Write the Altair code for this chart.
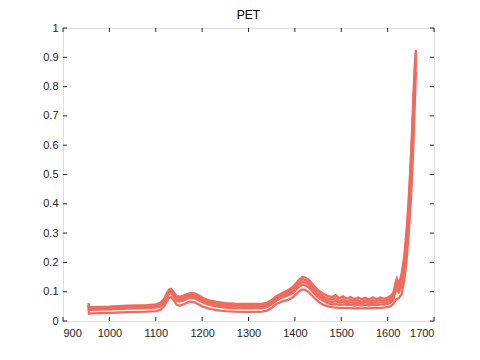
import altair as alt
import pandas as pd

# Wavelength (nm)
wl = [955, 956, 960, 980, 1000, 1020, 1040, 1060, 1080, 1100,
      1110, 1118, 1124, 1129, 1133, 1138, 1145, 1152, 1160, 1168,
      1176, 1184, 1192, 1200, 1215, 1230, 1250, 1270, 1290, 1310,
      1330, 1340, 1350, 1360, 1372, 1385, 1395, 1403, 1410, 1416,
      1422, 1430, 1440, 1450, 1462, 1472, 1480, 1488, 1496, 1504,
      1512, 1520, 1528, 1536, 1544, 1552, 1560, 1568, 1576, 1584,
      1592, 1600, 1606, 1612, 1617, 1620, 1624, 1630, 1636, 1641,
      1645, 1649, 1652, 1655, 1657, 1659, 1661]

s1 = [0.062, 0.048, 0.047, 0.048, 0.049, 0.051, 0.052, 0.053, 0.054, 0.057,
      0.062, 0.075, 0.095, 0.108, 0.110, 0.100, 0.085, 0.083, 0.087, 0.092,
      0.095, 0.094, 0.088, 0.080, 0.070, 0.065, 0.061, 0.059, 0.058, 0.058,
      0.059, 0.062, 0.072, 0.085, 0.095, 0.105, 0.115, 0.130, 0.142, 0.150,
      0.148, 0.140, 0.122, 0.105, 0.092, 0.085, 0.082, 0.088, 0.078, 0.084,
      0.076, 0.082, 0.075, 0.080, 0.074, 0.079, 0.073, 0.081, 0.075, 0.080,
      0.076, 0.080, 0.085, 0.095, 0.130, 0.145, 0.125, 0.160, 0.220, 0.310,
      0.400, 0.520, 0.620, 0.740, 0.820, 0.880, 0.925]

s2 = [0.056, 0.044, 0.044, 0.045, 0.046, 0.048, 0.049, 0.050, 0.051, 0.053,
      0.058, 0.070, 0.090, 0.103, 0.105, 0.095, 0.080, 0.078, 0.082, 0.087,
      0.090, 0.089, 0.083, 0.075, 0.065, 0.060, 0.056, 0.054, 0.053, 0.053,
      0.054, 0.057, 0.067, 0.080, 0.090, 0.099, 0.108, 0.123, 0.135, 0.142,
      0.140, 0.132, 0.114, 0.097, 0.083, 0.076, 0.073, 0.079, 0.068, 0.075,
      0.066, 0.073, 0.067, 0.071, 0.065, 0.072, 0.066, 0.071, 0.067, 0.072,
      0.068, 0.072, 0.076, 0.086, 0.120, 0.135, 0.115, 0.145, 0.205, 0.295,
      0.390, 0.500, 0.600, 0.710, 0.800, 0.870, 0.915]

s3 = [0.053, 0.041, 0.041, 0.042, 0.043, 0.045, 0.046, 0.047, 0.048, 0.050,
      0.054, 0.066, 0.086, 0.098, 0.100, 0.090, 0.075, 0.072, 0.076, 0.082,
      0.085, 0.083, 0.077, 0.070, 0.060, 0.055, 0.051, 0.049, 0.048, 0.048,
      0.049, 0.052, 0.062, 0.075, 0.085, 0.093, 0.101, 0.115, 0.126, 0.133,
      0.131, 0.123, 0.105, 0.088, 0.075, 0.068, 0.065, 0.068, 0.062, 0.066,
      0.060, 0.064, 0.060, 0.063, 0.059, 0.064, 0.059, 0.063, 0.060, 0.064,
      0.062, 0.065, 0.069, 0.079, 0.110, 0.120, 0.106, 0.132, 0.190, 0.275,
      0.365, 0.470, 0.570, 0.680, 0.770, 0.845, 0.900]

s4 = [0.050, 0.038, 0.038, 0.039, 0.040, 0.041, 0.042, 0.043, 0.044, 0.046,
      0.050, 0.062, 0.082, 0.093, 0.095, 0.085, 0.069, 0.066, 0.070, 0.076,
      0.079, 0.077, 0.071, 0.064, 0.055, 0.050, 0.046, 0.044, 0.043, 0.043,
      0.044, 0.047, 0.057, 0.070, 0.080, 0.087, 0.095, 0.108, 0.118, 0.124,
      0.122, 0.114, 0.097, 0.080, 0.068, 0.060, 0.057, 0.058, 0.055, 0.057,
      0.054, 0.056, 0.053, 0.055, 0.053, 0.056, 0.053, 0.055, 0.054, 0.056,
      0.056, 0.058, 0.062, 0.072, 0.100, 0.105, 0.098, 0.120, 0.175, 0.255,
      0.340, 0.440, 0.540, 0.650, 0.740, 0.820, 0.880]

s5 = [0.040, 0.025, 0.026, 0.027, 0.028, 0.029, 0.030, 0.031, 0.032, 0.034,
      0.038, 0.050, 0.068, 0.080, 0.082, 0.072, 0.056, 0.052, 0.057, 0.063,
      0.066, 0.064, 0.057, 0.050, 0.042, 0.037, 0.034, 0.032, 0.031, 0.031,
      0.032, 0.035, 0.045, 0.058, 0.066, 0.072, 0.080, 0.092, 0.102, 0.108,
      0.106, 0.098, 0.082, 0.066, 0.055, 0.050, 0.047, 0.046, 0.045, 0.045,
      0.044, 0.044, 0.043, 0.044, 0.043, 0.044, 0.043, 0.044, 0.044, 0.045,
      0.046, 0.047, 0.050, 0.058, 0.070, 0.075, 0.078, 0.090, 0.140, 0.210,
      0.290, 0.380, 0.470, 0.580, 0.670, 0.760, 0.850]

series = {"s1": s1, "s2": s2, "s3": s3, "s4": s4, "s5": s5}

x_ticks = [900, 1000, 1100, 1200, 1300, 1400, 1500, 1600, 1700]
y_ticks = [0, 0.1, 0.2, 0.3, 0.4, 0.5, 0.6, 0.7, 0.8, 0.9, 1]

rows = []
for name, vals in series.items():
    for w, v in zip(wl, vals):
        rows.append({"wl": w, "val": v, "s": name})
df = pd.DataFrame(rows)

W, H = 371, 293
LINE = "#EE6B5E"
AX = "#262626"
BOX = "#808080"

xscale = alt.Scale(domain=[900, 1700], nice=False, zero=False)
yscale = alt.Scale(domain=[0, 1], nice=False)

xaxis = alt.Axis(values=x_ticks, title=None, grid=False, domain=False, ticks=False,
                 tickSize=0, labelPadding=6, labelFontSize=11, labelColor=AX,
                 labelFont="Liberation Sans", format="d", labelOverlap=False)
yaxis = alt.Axis(values=y_ticks, title=None, grid=False, domain=False, ticks=False,
                 tickSize=0, labelPadding=5, labelFontSize=11, labelColor=AX,
                 labelFont="Liberation Sans", format="~g", minExtent=50, maxExtent=50,
                 labelOverlap=False)

lines = alt.Chart(df).mark_line(color=LINE, strokeWidth=2.3, clip=True).encode(
    x=alt.X("wl:Q", scale=xscale, axis=xaxis, title=None),
    y=alt.Y("val:Q", scale=yscale, axis=yaxis, title=None),
    detail="s:N",
    order="wl:Q",
)

xt = pd.DataFrame({"t": x_ticks})
yt = pd.DataFrame({"t": y_ticks})

xb = alt.Chart(xt).mark_rule(color=AX, strokeWidth=1).encode(
    x=alt.X("t:Q", scale=xscale, axis=xaxis, title=None), y=alt.value(H), y2=alt.value(H - 4))
xtop = alt.Chart(xt).mark_rule(color=AX, strokeWidth=1).encode(
    x=alt.X("t:Q", scale=xscale, axis=xaxis, title=None), y=alt.value(0), y2=alt.value(4))
yl = alt.Chart(yt).mark_rule(color=AX, strokeWidth=1).encode(
    y=alt.Y("t:Q", scale=yscale, axis=yaxis, title=None), x=alt.value(0), x2=alt.value(4))
yr = alt.Chart(yt).mark_rule(color=AX, strokeWidth=1).encode(
    y=alt.Y("t:Q", scale=yscale, axis=yaxis, title=None), x=alt.value(W), x2=alt.value(W - 4))

chart = alt.layer(lines, xb, xtop, yl, yr).properties(
    width=W, height=H,
    title=alt.TitleParams("PET", fontSize=12, fontWeight="normal", color="#000000",
                          font="Liberation Sans", offset=0),
    padding={"left": 5, "top": 1, "right": 5, "bottom": 5},
).configure_view(stroke=BOX, strokeWidth=1).configure(background="white")

chart.save("out.html", embed_options={"renderer": "svg", "actions": False})
